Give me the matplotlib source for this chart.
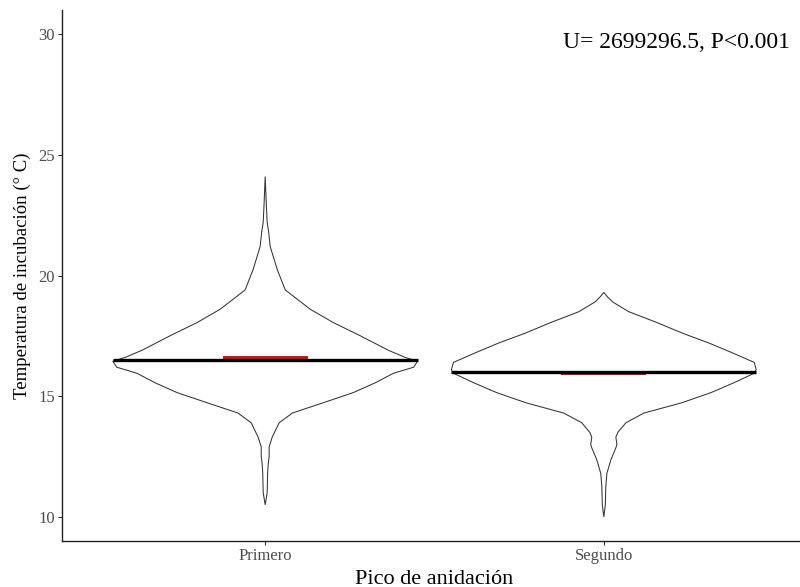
import numpy as np
import matplotlib
matplotlib.use("Agg")
from matplotlib import pyplot as plt

# Grupos y estadistico de la prueba
grupos = ["Primero", "Segundo"]
anotacion = "U= 2699296.5, P<0.001"

# Perfil de densidad (relativa al maximo) de cada violin
primero_temp = [24.1, 23.0, 22.2, 21.8, 21.2, 20.25, 19.4, 18.6, 18.05, 17.5, 16.9,
                16.6, 16.45, 16.2, 15.95, 15.56, 15.15, 14.73, 14.3, 13.9, 13.3,
                12.9, 12.5, 12.2, 11.8, 11.0, 10.5]
primero_dens = [0.0, 0.007, 0.013, 0.023, 0.033, 0.079, 0.132, 0.296, 0.447, 0.625, 0.809,
                0.921, 1.0, 0.974, 0.842, 0.724, 0.579, 0.382, 0.178, 0.092, 0.046,
                0.026, 0.026, 0.020, 0.016, 0.013, 0.0]

segundo_temp = [19.3, 19.1, 18.9, 18.5, 18.05, 17.6, 17.2, 16.8, 16.4, 16.1, 15.95,
                15.56, 15.15, 14.73, 14.3, 13.9, 13.5, 13.3, 13.0, 12.86, 12.36,
                11.8, 11.25, 10.5, 10.0]
segundo_dens = [0.0, 0.026, 0.059, 0.164, 0.349, 0.520, 0.691, 0.842, 0.987, 1.0, 0.987,
                0.855, 0.704, 0.513, 0.263, 0.145, 0.092, 0.079, 0.086, 0.079, 0.046,
                0.020, 0.013, 0.010, 0.0]

# Mediana (linea negra) e intervalo de la media (barra roja)
medianas = [16.5, 16.0]
media_inf = [16.52, 15.87]
media_sup = [16.68, 15.99]

perfiles = [(primero_temp, primero_dens), (segundo_temp, segundo_dens)]

plt.rcParams['font.family'] = ['Liberation Serif', 'DejaVu Serif']

fig = plt.figure(figsize=(8.0, 5.87), dpi=100)
ax = fig.add_axes([62 / 800, 46 / 587, 745 / 800, 531 / 587])

ancho = 0.45
for i, (temp, dens) in enumerate(perfiles):
    x = i + 1
    temp = np.array(temp)
    dens = np.array(dens) * ancho
    xs = np.concatenate([x - dens, (x + dens)[::-1]])
    ys = np.concatenate([temp, temp[::-1]])
    ax.fill(xs, ys, facecolor="white", edgecolor="#333333", linewidth=0.75, zorder=2)

    ax.fill_between([x - 0.125, x + 0.125], media_inf[i], media_sup[i],
                    color="#C8161D", linewidth=0, zorder=3)
    ax.plot([x - ancho, x + ancho], [medianas[i], medianas[i]],
            color="black", linewidth=2.4, solid_capstyle="butt", zorder=4)

ax.set_xlim(0.4, 2.6)
ax.set_ylim(9, 31)
ax.set_xticks([1, 2])
ax.set_xticklabels(grupos)
ax.set_yticks([10, 15, 20, 25, 30])

for s in ["top", "right"]:
    ax.spines[s].set_visible(False)
for s in ["left", "bottom"]:
    ax.spines[s].set_linewidth(1.0)
    ax.spines[s].set_color("#222222")

ax.tick_params(axis="both", length=3, width=0.8, color="#333333",
               labelsize=12, labelcolor="#4D4D4D", pad=2)

ax.set_xlabel("Pico de anidación", fontsize=16, labelpad=4)
ax.set_ylabel("Temperatura de incubación (° C)", fontsize=13.5, labelpad=5)

fig.text(790 / 800, 1 - 42 / 587, anotacion, fontsize=17, ha="right", va="center")

fig.savefig("out.png", dpi=100)
